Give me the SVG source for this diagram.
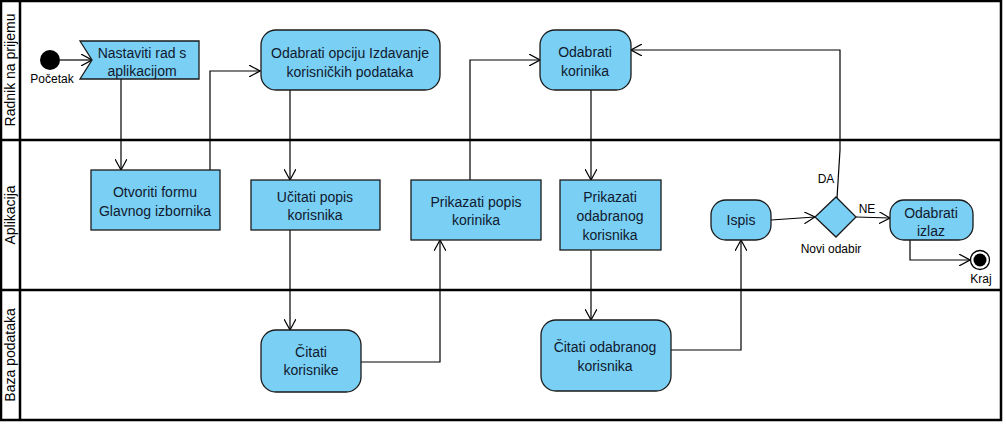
<svg xmlns="http://www.w3.org/2000/svg" width="1006" height="426" viewBox="0 0 1006 426">
<defs>
<marker id="arr" viewBox="0 0 12 12" refX="11" refY="6" markerWidth="12" markerHeight="12" markerUnits="userSpaceOnUse" orient="auto">
<path d="M0,0 L11,6 L0,12" fill="none" stroke="#000" stroke-width="1.2"/>
</marker>
<style>
.lane{fill:none;stroke:#000;stroke-width:2.5}
.act{fill:#7acff5;stroke:#1a1a1a;stroke-width:1.3}
.t{font-family:"Liberation Sans",Arial,sans-serif;font-size:14px;fill:#0f1a2e;text-anchor:middle}
.l{font-family:"Liberation Sans",Arial,sans-serif;font-size:12px;fill:#000;text-anchor:middle}
.h{font-family:"Liberation Sans",Arial,sans-serif;font-size:14px;fill:#000;text-anchor:middle}
.c{fill:none;stroke:#000;stroke-width:1.2;marker-end:url(#arr)}
</style>
</defs>
<rect width="1006" height="426" fill="#fff"/>
<g id="swimlanes">
<rect class="lane" x="1" y="1" width="1000" height="419"/>
<line class="lane" x1="20" y1="1" x2="20" y2="420"/>
<line class="lane" x1="1" y1="140" x2="1001" y2="140"/>
<line class="lane" x1="1" y1="290" x2="1001" y2="290"/>
<text class="h" transform="translate(15,70) rotate(-90)">Radnik na prijemu</text>
<text class="h" transform="translate(15,215) rotate(-90)">Aplikacija</text>
<text class="h" transform="translate(15,355) rotate(-90)">Baza podataka</text>
</g>
<g id="connectors">
<path class="c" d="M60,60 L92,60"/>
<path class="c" d="M121,79 L121,170"/>
<path class="c" d="M210,170 L210,71 L260,71"/>
<path class="c" d="M290,90 L290,180"/>
<path class="c" d="M290,230 L290,330"/>
<path class="c" d="M360,362 L440,362 L440,240"/>
<path class="c" d="M470,180 L470,60 L540,60"/>
<path class="c" d="M591,90 L591,180"/>
<path class="c" d="M591,250 L591,320"/>
<path class="c" d="M671,350 L741,350 L741,240"/>
<path class="c" d="M771,220 L815,217"/>
<path class="c" d="M837,198 L840,150 L840,50 L631,50"/>
<path class="c" d="M856,217 L890,218"/>
<path class="c" d="M910,240 L910,260 L970,260"/>
<text class="l" x="826" y="183">DA</text>
<text class="l" x="867" y="213">NE</text>
</g>
<g id="start">
<circle cx="50" cy="60" r="10" fill="#000"/>
<text class="l" x="52" y="83">Početak</text>
</g>
<g id="nastaviti">
<path class="act" d="M80,41 L199,41 L199,79 L80,79 L92,60 Z"/>
<text class="t" x="142" y="58">Nastaviti rad s</text>
<text class="t" x="142" y="76">aplikacijom</text>
</g>
<g id="odabrati-opciju">
<rect class="act" x="261" y="30" width="179" height="60" rx="15"/>
<text class="t" x="350" y="58">Odabrati opciju Izdavanje</text>
<text class="t" x="350" y="77">korisničkih podataka</text>
</g>
<g id="odabrati-korinika">
<rect class="act" x="540" y="30" width="91" height="60" rx="15"/>
<text class="t" x="585" y="57">Odabrati</text>
<text class="t" x="585" y="76">korinika</text>
</g>
<g id="otvoriti-formu">
<rect class="act" x="91" y="170" width="129" height="60"/>
<text class="t" x="155" y="197">Otvoriti formu</text>
<text class="t" x="155" y="216">Glavnog izbornika</text>
</g>
<g id="ucitati-popis">
<rect class="act" x="251" y="180" width="129" height="50"/>
<text class="t" x="315" y="202">Učitati popis</text>
<text class="t" x="315" y="220">korisnika</text>
</g>
<g id="prikazati-popis">
<rect class="act" x="411" y="180" width="130" height="60"/>
<text class="t" x="476" y="207">Prikazati popis</text>
<text class="t" x="476" y="225">korinika</text>
</g>
<g id="prikazati-odabranog">
<rect class="act" x="560" y="180" width="101" height="70"/>
<text class="t" x="610" y="202">Prikazati</text>
<text class="t" x="610" y="221">odabranog</text>
<text class="t" x="610" y="240">korisnika</text>
</g>
<g id="ispis">
<rect class="act" x="711" y="200" width="60" height="40" rx="15"/>
<text class="t" x="741" y="225">Ispis</text>
</g>
<g id="decision">
<path class="act" d="M815,217 L836,197 L856,217 L836,237 Z"/>
<text class="l" x="831" y="253">Novi odabir</text>
</g>
<g id="odabrati-izlaz">
<rect class="act" x="890" y="200" width="83" height="40" rx="14"/>
<text class="t" x="931" y="218">Odabrati</text>
<text class="t" x="931" y="236">izlaz</text>
</g>
<g id="end">
<circle cx="980" cy="260" r="9.5" fill="#fff" stroke="#000" stroke-width="1.3"/>
<circle cx="980" cy="260" r="6.5" fill="#000"/>
<text class="l" x="981" y="283">Kraj</text>
</g>
<g id="citati-korisnike">
<rect class="act" x="261" y="330" width="100" height="62" rx="15"/>
<text class="t" x="311" y="357">Čitati</text>
<text class="t" x="311" y="375">korisnike</text>
</g>
<g id="citati-odabranog">
<rect class="act" x="541" y="320" width="130" height="71" rx="15"/>
<text class="t" x="605" y="352">Čitati odabranog</text>
<text class="t" x="605" y="371">korisnika</text>
</g>
</svg>
